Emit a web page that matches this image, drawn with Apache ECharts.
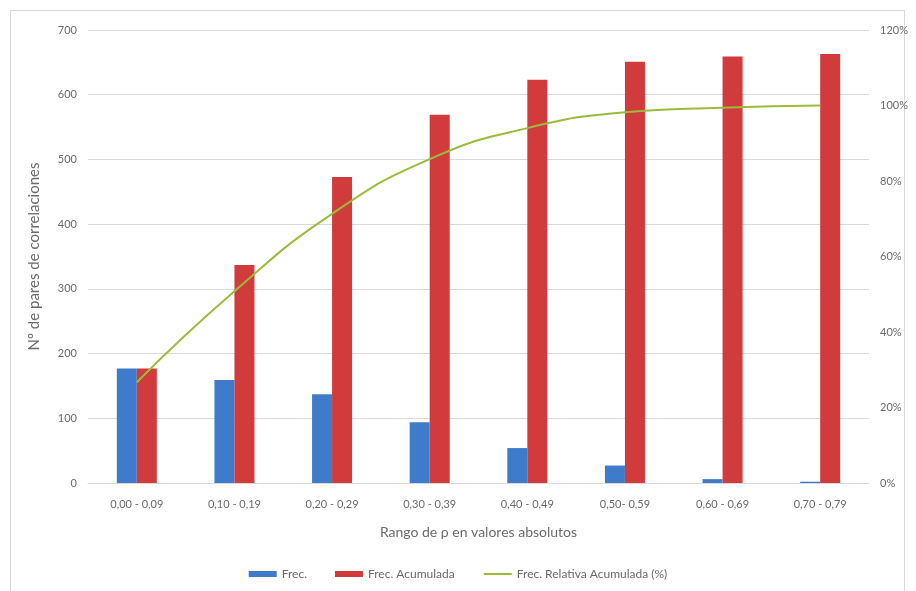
<!DOCTYPE html>
<html>
<head>
<meta charset="utf-8">
<script src="https://cdn.jsdelivr.net/npm/echarts@6/dist/echarts.min.js"></script>
<style>
html,body{margin:0;padding:0;background:#fff;}
#frame{position:absolute;left:10px;top:10px;width:895px;height:585px;border:1px solid #d9d9d9;box-sizing:border-box;}
#chart{position:absolute;left:0;top:0;width:916px;height:591px;}
</style>
</head>
<body>
<div id="frame"></div>
<div id="chart"></div>
<script>
const categories = ['0,00 - 0,09','0,10 - 0,19','0,20 - 0,29','0,30 - 0,39','0,40 - 0,49','0,50- 0,59','0,60 - 0,69','0,70 - 0,79'];
const frec = [177, 159, 137, 94, 54, 27, 6, 2];
const frecAcum = [177, 337, 473, 569, 623, 651, 659, 663];
const frecRelAcum = [26.7, 50.8, 71.3, 85.8, 94.0, 98.2, 99.4, 100];
const leftTicks = [0, 100, 200, 300, 400, 500, 600, 700];
const rightTicks = [0, 20, 40, 60, 80, 100, 120];

const chart = echarts.init(document.getElementById('chart'));
const font = 'Lato, "Open Sans", sans-serif';
const gray = '#6b6b6b';
chart.setOption({
  animation: false,
  textStyle: {fontFamily: font},
  grid: {left: 88, right: 47, top: 30, bottom: 108},
  legend: {
    bottom: 6, left: 'center', itemGap: 28, itemWidth: 28, itemHeight: 6,
    textStyle: {color: gray, fontSize: 12, fontFamily: font},
    data: [
      {name: 'Frec.', icon: 'rect'},
      {name: 'Frec. Acumulada', icon: 'rect'},
      {name: 'Frec. Relativa Acumulada (%)', itemStyle: {opacity: 0}}
    ]
  },
  xAxis: {
    type: 'category', data: categories,
    name: 'Rango de ρ en valores absolutos', nameLocation: 'middle', nameGap: 42,
    nameTextStyle: {color: gray, fontSize: 14},
    axisLine: {lineStyle: {color: '#d9d9d9'}},
    axisTick: {show: false},
    axisLabel: {color: gray, fontSize: 11, margin: 16}
  },
  yAxis: [
    {
      type: 'value', min: 0, max: 700, interval: 100,
      name: 'Nº de pares de correlaciones', nameLocation: 'middle', nameGap: 46,
      nameTextStyle: {color: gray, fontSize: 15},
      axisLine: {show: false}, axisTick: {show: false},
      axisLabel: {color: gray, fontSize: 11, margin: 11},
      splitLine: {lineStyle: {color: '#d9d9d9'}}
    },
    {
      type: 'value', min: 0, max: 120, interval: 20,
      axisLine: {show: false}, axisTick: {show: false},
      axisLabel: {color: gray, fontSize: 11, margin: 11, formatter: '{value}%'},
      splitLine: {show: false}
    }
  ],
  series: [
    {name: 'Frec.', type: 'bar', data: frec, barGap: '0%', barCategoryGap: '59%',
     itemStyle: {color: '#3e7ccb'}},
    {name: 'Frec. Acumulada', type: 'bar', data: frecAcum,
     itemStyle: {color: '#d13b3b'}},
    {name: 'Frec. Relativa Acumulada (%)', type: 'line', yAxisIndex: 1, data: frecRelAcum,
     smooth: true, showSymbol: false, symbol: 'none',
     lineStyle: {color: '#9bbb3b', width: 2}, itemStyle: {color: '#9bbb3b'}}
  ]
});
</script>
</body>
</html>
